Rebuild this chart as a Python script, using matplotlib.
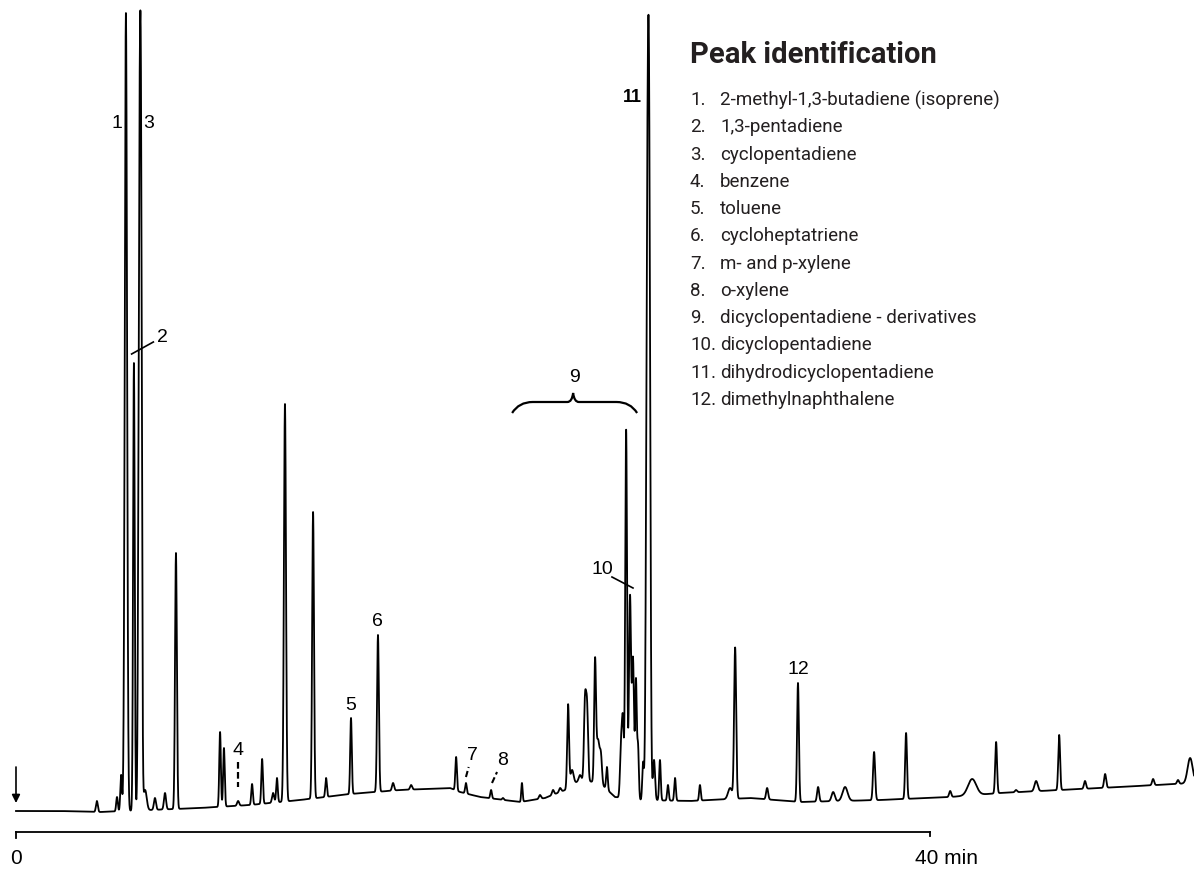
import matplotlib
matplotlib.use("Agg")
import matplotlib.pyplot as plt
import numpy as np
from matplotlib.path import Path
from matplotlib.patches import PathPatch

# retention time [min] and apex response [a.u.] of every peak
PEAK_TIME = [3.54, 4.42, 4.60, 4.81, 5.16, 5.40, 5.47, 5.65, 6.08, 6.52, 7.00,
             8.93, 9.10, 9.72, 10.33, 10.77, 11.25, 11.42, 11.77, 13.00, 13.57,
             14.66, 15.84, 16.50, 17.29, 19.26, 19.69, 20.79, 21.31, 22.14,
             22.93, 23.50, 23.81, 24.16, 24.33, 24.68, 24.90, 24.99, 25.34,
             25.47, 25.60, 25.86, 26.48, 26.56, 26.70, 26.87, 27.00, 27.13,
             27.22, 27.44, 27.63, 27.71, 27.92, 28.18, 28.53, 28.84, 29.93,
             31.25, 31.47, 32.87, 34.22, 35.10, 35.76, 36.28, 37.55, 38.95,
             40.88, 41.84, 42.89, 43.76, 44.64, 45.65, 46.78, 47.66, 49.76,
             50.85, 51.38]
PEAK_TOP = [10, 14, 36, 798, 448, 560, 560, 21, 13, 18, 258,
            79, 63, 10, 27, 52, 18, 33, 407, 299, 33,
            93, 176, 28, 26, 54, 28, 21, 13, 28,
            16, 21, 23, 106, 41, 36, 108, 101, 146,
            71, 51, 44, 66, 84, 381, 214, 151, 129,
            64, 48, 535, 535, 51, 51, 26, 33, 26,
            23, 163, 23, 128, 24, 19, 24, 59, 78,
            20, 32, 69, 21, 30, 76, 30, 37, 32,
            31, 53]
PEAK_SIGMA = [0.04, 0.035, 0.035, 0.05, 0.035, 0.045, 0.04, 0.07, 0.045, 0.045, 0.04,
              0.035, 0.035, 0.045, 0.035, 0.035, 0.045, 0.035, 0.045, 0.04, 0.035,
              0.035, 0.04, 0.045, 0.045, 0.035, 0.035, 0.035, 0.035, 0.03,
              0.045, 0.045, 0.045, 0.04, 0.07, 0.055, 0.045, 0.045, 0.04,
              0.07, 0.045, 0.035, 0.045, 0.04, 0.04, 0.045, 0.045, 0.035,
              0.035, 0.035, 0.055, 0.05, 0.045, 0.035, 0.035, 0.035, 0.035,
              0.09, 0.045, 0.045, 0.04, 0.045, 0.07, 0.11, 0.045, 0.04,
              0.045, 0.18, 0.04, 0.045, 0.07, 0.04, 0.045, 0.045, 0.045,
              0.045, 0.11]

# drifting baseline (knots)
BASE_TIME = [0.00, 1.93, 3.68, 5.86, 8.05, 10.24, 12.43, 14.62, 16.81, 18.99,
             19.43, 20.31, 22.06, 23.15, 24.03, 24.68, 25.56, 26.21, 27.31,
             29.50, 32.12, 34.31, 37.81, 40.88, 43.06, 47.44, 51.55]
BASE_LEVEL = [0, 0, -1, 1, 3, 6, 11, 17, 21, 23,
              19, 14, 9, 13, 21, 31, 28, 14, 11,
              10, 13, 9, 11, 14, 18, 23, 28]

# peak labels: text, time, response
LABELS = ["1", "3", "2", "4", "5", "6", "7", "8", "9", "10", "11", "12"]
LABEL_TIME = [4.42, 5.82, 6.39, 9.72, 14.66, 15.80, 19.96, 21.31, 24.42, 25.65, 26.96, 34.22]
LABEL_RESP = [688, 688, 474, 61, 105, 189, 56, 51, 433, 241, 714, 141]

LEGEND_TITLE = "Peak identification"
LEGEND_ITEMS = ["2-methyl-1,3-butadiene (isoprene)", "1,3-pentadiene", "cyclopentadiene",
                "benzene", "toluene", "cycloheptatriene", "m- and p-xylene", "o-xylene",
                "dicyclopentadiene - derivatives", "dicyclopentadiene",
                "dihydrodicyclopentadiene", "dimethylnaphthalene"]

T_END = 51.55
AXIS_END = 40

NARROW = ["Liberation Sans Narrow", "Roboto", "DejaVu Sans"]
plt.rcParams['font.family'] = ["Liberation Sans", "DejaVu Sans"]

# ----------------------------------------------------------------------------------------------------
def build_trace():
    t = np.linspace(0, T_END, 60000)
    y = np.interp(t, BASE_TIME, BASE_LEVEL)
    for tp, top, s in zip(PEAK_TIME, PEAK_TOP, PEAK_SIGMA):
        amp = top - np.interp(tp, BASE_TIME, BASE_LEVEL)
        y += amp * np.exp(-0.5 * ((t - tp) / s) ** 2)
    return t, y

# ----------------------------------------------------------------------------------------------------
def plot_chromatogram():

    fig = plt.figure(figsize = (11.94, 8.71), dpi = 100)
    ax = fig.add_axes([0, 0, 1, 1])
    ax.set_xlim(-0.70, T_END)
    ax.set_ylim(-60, 811)
    ax.axis('off')

    t, y = build_trace()
    ax.plot(t, y, c = 'k', lw = 1.3)

    # injection marker
    ax.annotate("", xy = (0, 8), xytext = (0, 44),
                arrowprops = dict(arrowstyle = '-|>', color = 'k', lw = 1.2,
                                  mutation_scale = 12, shrinkA = 0, shrinkB = 0))

    # time axis
    ax.plot([0, AXIS_END], [-21, -21], c = 'k', lw = 1.3)
    ax.plot([0, 0], [-21, -27], c = 'k', lw = 1.3)
    ax.plot([AXIS_END, AXIS_END], [-21, -25], c = 'k', lw = 1.3)
    ax.text(0, -47, "0", ha = 'center', va = 'center', fontsize = 15)
    ax.text(39.35, -47, "40 min", ha = 'left', va = 'center', fontsize = 15)

    # peak labels
    for lab, lt, lr in zip(LABELS, LABEL_TIME, LABEL_RESP):
        ax.text(lt, lr, lab, ha = 'center', va = 'center',
                fontsize = 13 if lab == "11" else 14,
                fontweight = 'bold' if lab == "11" else 'normal')

    # pointers
    ax.plot([5.06, 6.01], [457, 469], c = 'k', lw = 1.2)                      # 2
    ax.plot([9.72, 9.72], [49, 24], c = 'k', lw = 1.6, ls = (0, (3, 1.5)))    # 4
    ax.plot([19.69, 19.81], [34, 44], c = 'k', lw = 1.5, ls = (0, (3, 1.5)))  # 7
    ax.plot([20.83, 21.05], [28, 39], c = 'k', lw = 1.5, ls = (0, (3, 1.5)))  # 8
    ax.plot([26.08, 27.00], [234, 223], c = 'k', lw = 1.2)                    # 10

    # curly brace over group 9
    x0, x1, xm = 21.71, 27.18, 24.38
    yb, yt, ytip = 398, 409, 418
    verts = [(x0, yb), (x0 + 0.3, yt), (x0 + 0.9, yt),
             (xm - 0.25, yt), (xm - 0.05, yt), (xm, ytip),
             (xm + 0.05, yt), (xm + 0.25, yt),
             (x1 - 0.9, yt), (x1 - 0.3, yt), (x1, yb)]
    codes = [Path.MOVETO, Path.CURVE3, Path.CURVE3,
             Path.LINETO, Path.CURVE3, Path.CURVE3,
             Path.CURVE3, Path.CURVE3,
             Path.LINETO, Path.CURVE3, Path.CURVE3]
    ax.add_patch(PathPatch(Path(verts, codes), fill = False, lw = 1.6, ec = 'k'))

    # peak identification list
    fig.text(690 / 1194, 1 - 63 / 871, LEGEND_TITLE, family = NARROW, fontweight = 'bold',
             fontsize = 21, color = '#231f20', va = 'baseline', ha = 'left')
    for i, item in enumerate(LEGEND_ITEMS):
        yy = 1 - (100 + 27.27 * i) / 871
        fig.text(690 / 1194, yy, f"{i + 1}.", family = NARROW, fontsize = 13.5,
                 color = '#231f20', va = 'center', ha = 'left')
        fig.text(720 / 1194, yy, item, family = NARROW, fontsize = 13.5,
                 color = '#231f20', va = 'center', ha = 'left')

    fig.savefig("out.png", dpi = 100)

# ----------------------------------------------------------------------------------------------------
if __name__ == '__main__':

    plot_chromatogram()
